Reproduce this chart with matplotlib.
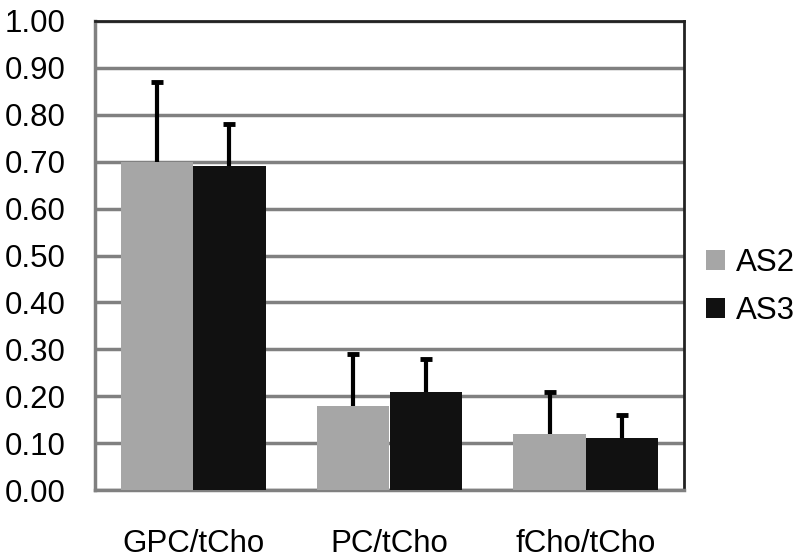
import matplotlib
matplotlib.use("Agg")
import matplotlib.pyplot as plt
import numpy as np

categories = ["GPC/tCho", "PC/tCho", "fCho/tCho"]
as2_values = [0.70, 0.18, 0.12]
as3_values = [0.69, 0.21, 0.11]
as2_err = [0.17, 0.11, 0.09]
as3_err = [0.09, 0.07, 0.05]
yticks = [0.0, 0.1, 0.2, 0.3, 0.4, 0.5, 0.6, 0.7, 0.8, 0.9, 1.0]

plt.rcParams['font.family'] = ['Liberation Sans', 'DejaVu Sans']
FS = 22.5

fig = plt.figure(figsize=(8, 5.6), dpi=100)
ax = fig.add_axes([95/800, 1-490/560, (684-95)/800, (490-21)/560])

x = np.arange(len(categories))
w = 0.37
ekw = dict(ecolor="black", elinewidth=3, capsize=4, capthick=3.5, zorder=4)
b1 = ax.bar(x - w/2, as2_values, w, color="#a6a6a6", label="AS2", zorder=3,
            yerr=[np.zeros(3), as2_err], error_kw=ekw)
b2 = ax.bar(x + w/2, as3_values, w, color="#111111", label="AS3", zorder=3,
            yerr=[np.zeros(3), as3_err], error_kw=ekw)
# hide lower caps (only upper error shown)
for b in (b1, b2):
    caps = b.errorbar.lines[1]
    if len(caps) >= 2:
        caps[0].set_visible(False)

ax.set_xlim(-0.5, 2.5)
ax.set_ylim(0, 1.0)
ax.set_yticks(yticks)
ax.set_yticklabels([f"{v:.2f}" for v in yticks], fontsize=FS)
ax.set_xticks(x)
ax.set_xticklabels(categories, fontsize=FS)
ax.tick_params(axis='x', length=0, pad=28)
ax.tick_params(axis='y', length=0, pad=21)
ax.yaxis.grid(True, color="#808080", linewidth=2.5, zorder=0)
ax.set_axisbelow(True)
for s in ["left", "bottom"]:
    ax.spines[s].set_color("#808080")
    ax.spines[s].set_linewidth(2.5)
for s in ["top", "right"]:
    ax.spines[s].set_color("#222222")
    ax.spines[s].set_linewidth(2)

leg = fig.legend(loc="center left", bbox_to_anchor=(706/800, 1-287/560), frameon=False,
                 fontsize=FS, handlelength=0.6, handleheight=0.6, handletextpad=0.35,
                 labelspacing=0.6, borderpad=0, borderaxespad=0)

fig.savefig("out.png", dpi=100)
